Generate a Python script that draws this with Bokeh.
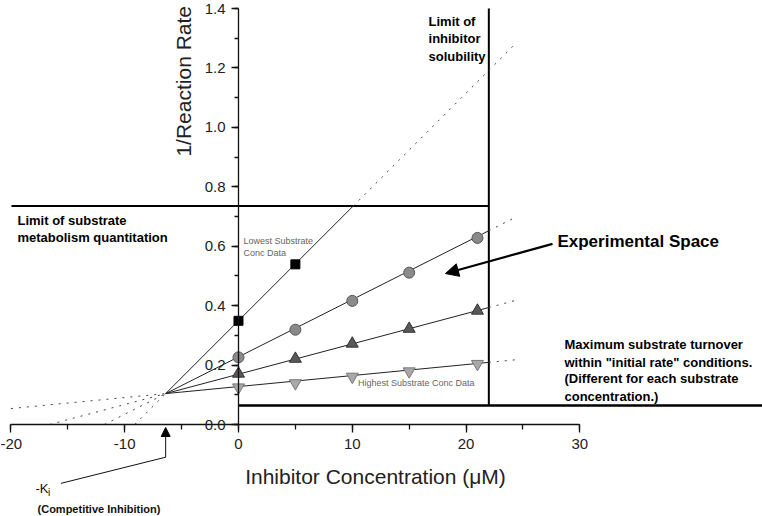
import numpy as np
from bokeh.plotting import figure
from bokeh.models import (Range1d, SingleIntervalTicker, Arrow, NormalHead, LinearAxis,
                          PrintfTickFormatter)
from bokeh.core.properties import value
from bokeh.embed import file_html
from bokeh.resources import INLINE

# ---------------- data ----------------
inhibitor_conc = [0, 5, 10, 15, 21]
rate_lowest = [0.349, 0.539]          # squares (only first two conc)
rate_second = [0.226, 0.319, 0.416, 0.511, 0.628]   # circles
rate_third = [0.171, 0.221, 0.272, 0.322, 0.383]    # triangles
rate_highest = [0.125, 0.139, 0.161, 0.179, 0.204]  # inverted triangles

# common intersection (-Ki) and fitted slopes of each series line
ki_x = -6.4
ki_y = 0.104
fit_slopes = [0.0383, 0.0193, 0.0102, 0.0037]
fit_end_x = 24.5

# experimental limits
solubility_limit = 22.0       # inhibitor conc
metabolism_limit = 0.735      # 1/rate
turnover_limit = 0.064        # 1/rate

x_ticks_major = 10
y_ticks_major = 0.2

FONT = "Liberation Sans"

p = figure(width=762, height=516, output_backend="svg", toolbar_location=None,
           x_range=Range1d(-20.914, 46.05), y_range=Range1d(-0.3096, 1.4269),
           min_border=0, x_axis_type=None, y_axis_type=None)
p.outline_line_color = None
p.xgrid.visible = False
p.ygrid.visible = False
p.background_fill_color = "white"

xax = LinearAxis(ticker=SingleIntervalTicker(interval=x_ticks_major, num_minor_ticks=2),
                 fixed_location=0, bounds=(-20, 30.001))
yax = LinearAxis(ticker=SingleIntervalTicker(interval=y_ticks_major, num_minor_ticks=2),
                 fixed_location=0, bounds=(0, 1.4001))
for ax in (xax, yax):
    ax.axis_line_color = "#111111"
    ax.axis_line_width = 1.3
    ax.major_tick_line_color = "#111111"
    ax.minor_tick_line_color = "#111111"
    ax.major_tick_line_width = 1.3
    ax.minor_tick_line_width = 1.3
    ax.major_tick_in = 0
    ax.minor_tick_in = 0
    ax.major_label_text_font = FONT
    ax.major_label_text_font_size = "15px"
    ax.major_label_text_color = "#222222"
xax.major_tick_out = 8
xax.minor_tick_out = 5
xax.major_label_standoff = 6
xax.formatter = PrintfTickFormatter(format="%d")
yax.major_tick_out = 7
yax.minor_tick_out = 4
yax.major_label_standoff = 6
yax.formatter = PrintfTickFormatter(format="%.1f")
p.add_layout(xax, "below")
p.add_layout(yax, "left")

# ---------------- limit lines ----------------
p.segment(x0=[-19.95], y0=[metabolism_limit], x1=[solubility_limit], y1=[metabolism_limit],
          line_color="black", line_width=2)
p.segment(x0=[solubility_limit], y0=[turnover_limit], x1=[solubility_limit], y1=[1.4],
          line_color="black", line_width=2)
p.segment(x0=[0], y0=[turnover_limit], x1=[47], y1=[turnover_limit],
          line_color="black", line_width=2.6)

# ---------------- fit lines ----------------
for s in fit_slopes:
    # left dotted extension down to the x axis (or the left edge)
    x_left = max(-20.0, ki_x - ki_y / s)
    y_left = ki_y + s * (x_left - ki_x)
    p.line([x_left, ki_x], [y_left, ki_y], line_color="#444444", line_width=1, line_dash="2 6")
    # solid part inside experimental space
    x_solid = min(solubility_limit, ki_x + (metabolism_limit - ki_y) / s)
    p.line([ki_x, x_solid], [ki_y, ki_y + s * (x_solid - ki_x)], line_color="#222222", line_width=1)
    # dotted extension beyond
    p.line([x_solid, fit_end_x], [ki_y + s * (x_solid - ki_x), ki_y + s * (fit_end_x - ki_x)],
           line_color="#444444", line_width=1, line_dash="2 6")

# ---------------- markers ----------------
p.scatter(inhibitor_conc[:2], rate_lowest, marker="square", size=9,
          fill_color="black", line_color="black")
p.scatter(inhibitor_conc, rate_second, marker="circle", size=11,
          fill_color="#8a8a8a", line_color="#555555", line_width=1)
p.scatter(inhibitor_conc, rate_third, marker="triangle", size=12,
          fill_color="#585858", line_color="#333333", line_width=1)
p.scatter(inhibitor_conc, rate_highest, marker="inverted_triangle", size=12,
          fill_color="#a9a9a9", line_color="#777777", line_width=1)

# ---------------- texts ----------------
def txt(x, y, lines, size, bold=False, color="black", align="left", angle=0.0):
    p.text(x=x, y=y, text=lines, text_font=value(FONT), text_font_size=value(size),
           text_font_style="bold" if bold else "normal", text_color=color,
           text_align=align, text_baseline="middle", angle=angle)

txt([-19.42, -19.42], [0.688, 0.631], ["Limit of substrate", "metabolism quantitation"], "13px", bold=True)
txt([16.7, 16.7, 16.7], [1.356, 1.299, 1.239], ["Limit of", "inhibitor", "solubility"], "13px", bold=True)
txt([28.03], [0.615], ["Experimental Space"], "17px", bold=True)
txt([28.65] * 4, [0.269, 0.208, 0.154, 0.094],
    ["Maximum substrate turnover", "within \"initial rate\" conditions.",
     "(Different for each substrate", "concentration.)"], "13px", bold=True)
txt([0.44, 0.44], [0.618, 0.578], ["Lowest Substrate", "Conc Data"], "9px", color="#666666")
txt([10.5], [0.138], ["Highest Substrate Conc Data"], "9px", color="#666666")
txt([-17.84], [-0.215], ["-K"], "13px", color="#111111")
txt([-16.75], [-0.229], ["i"], "10px", color="#111111")
txt([-17.66], [-0.285], ["(Competitive Inhibition)"], "11px", bold=True, color="#111111")
txt([-4.83], [1.155], ["1/Reaction Rate"], "21px", color="#222222", align="center", angle=np.pi / 2)
txt([12.04], [-0.175], ["Inhibitor Concentration (\u03bcM)"], "21px", color="#222222", align="center")

# ---------------- arrows ----------------
p.add_layout(Arrow(end=NormalHead(size=13, fill_color="black", line_color="black"),
                   x_start=27.6, y_start=0.608, x_end=18.19, y_end=0.508,
                   line_width=2.2, line_color="black"))
p.segment(x0=[-15.6], y0=[-0.198], x1=[ki_x], y1=[-0.110], line_color="#111111", line_width=1)
p.add_layout(Arrow(end=NormalHead(size=9, fill_color="black", line_color="black"),
                   x_start=ki_x, y_start=-0.110, x_end=ki_x, y_end=-0.010,
                   line_width=1, line_color="#111111"))

open("out.html", "w").write(file_html(p, INLINE))
